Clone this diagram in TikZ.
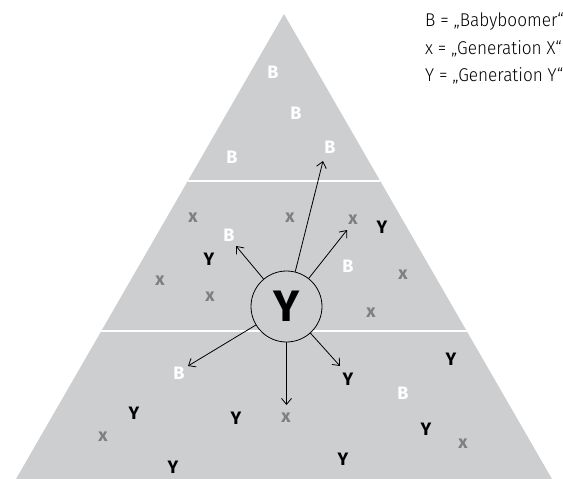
\documentclass[tikz,border=0pt]{standalone}
\usepackage{fontspec}
\setmainfont{Fira Sans}
\newfontfamily\legendfont{Fira Sans Light}[FakeStretch=0.93]
\usetikzlibrary{arrows.meta}
\definecolor{pyr}{HTML}{CDCED0}
\definecolor{xgrey}{HTML}{7F7F7F}
\begin{document}
\begin{tikzpicture}[x=1pt,y=-1pt,
  gen/.style={font=\fontsize{18}{18}\selectfont\bfseries, inner sep=0pt},
  boomer/.style={gen, text=white},
  genx/.style={gen, text=xgrey},
  geny/.style={gen, text=black},
  arr/.style={-{Straight Barb[length=6pt,width=10pt]}, line width=0.8pt},
  divider/.style={white, line width=1.5pt},
  legend/.style={anchor=base west, inner sep=0pt,
    font=\legendfont\fontsize{18.5}{18.5}\selectfont}]
\useasboundingbox (0,0) rectangle (563,479);

% pyramid and its three layers
\fill[pyr] (284,14) -- (552,479) -- (16,479) -- cycle;
\draw[divider] (188,181) -- (380,181);
\draw[divider] (101,331) -- (467,331);

% top layer
\node[boomer] (b1) at (273,72) {B};
\node[boomer] (b2) at (296,113) {B};
\node[boomer] (b3) at (232,157) {B};
\node[boomer] (b4) at (330,147) {B};

% middle layer
\node[genx] (x1) at (193,218) {x};
\node[genx] (x2) at (290,218) {x};
\node[genx] (x3) at (353,220) {x};
\node[geny] (y1) at (382,227) {Y};
\node[boomer] (b5) at (229,235) {B};
\node[geny] (y2) at (209,259) {Y};
\node[boomer] (b6) at (348,266) {B};
\node[genx] (x4) at (403,275) {x};
\node[genx] (x5) at (160,281) {x};
\node[genx] (x6) at (210,297) {x};
\node[genx] (x7) at (371,313) {x};

% bottom layer
\node[geny] (y3) at (451,359) {Y};
\node[boomer] (b7) at (179,373) {B};
\node[geny] (y4) at (348,379) {Y};
\node[boomer] (b8) at (403,393) {B};
\node[geny] (y5) at (134,413) {Y};
\node[geny] (y6) at (236,418) {Y};
\node[genx] (x8) at (286,418) {x};
\node[genx] (x9) at (103,437) {x};
\node[geny] (y7) at (426,429) {Y};
\node[genx] (x10) at (463,444) {x};
\node[geny] (y8) at (343,459) {Y};
\node[geny] (y9) at (173,467) {Y};

% the central Y and where it moves
\node[circle, draw, line width=0.8pt, fill=pyr, minimum size=71pt, inner sep=0pt,
      font=\fontsize{44}{44}\selectfont\bfseries] (c) at (286.5,306.5) {Y};
\coordinate (t1) at (323,161);
\coordinate (t2) at (236,246);
\coordinate (t3) at (347,230);
\coordinate (t4) at (188,366);
\coordinate (t5) at (286.5,405);
\coordinate (t6) at (340,366);
\foreach \t in {t1,t2,t3,t4,t5,t6}
  \draw[arr] (c) -- (\t);

% key
\node[legend] (k1) at (425,27) {B = „Babyboomer“};
\node[legend] (k2) at (425,54) {x = „Generation X“};
\node[legend] (k3) at (425,81) {Y = „Generation Y“};
\end{tikzpicture}
\end{document}
